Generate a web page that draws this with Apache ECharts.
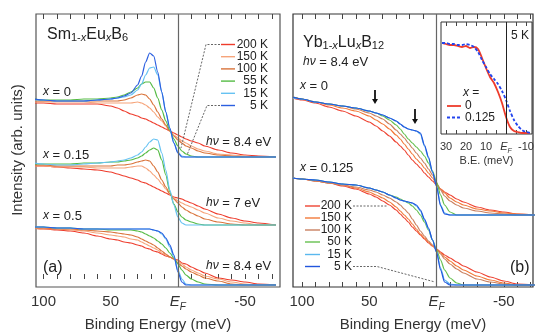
<!DOCTYPE html>
<html>
<head>
<meta charset="utf-8">
<script src="https://cdn.jsdelivr.net/npm/echarts@6/dist/echarts.min.js"></script>
<style>
html, body { margin: 0; padding: 0; background: #fff; }
#main { width: 535px; height: 333px; }
</style>
</head>
<body>
<div id="main"></div>
<script>
// binding energy grid (meV) shared by the two main panels
var energy = [107, 100, 90, 80, 70, 60, 50, 45, 40, 35, 30, 27, 24, 21, 18, 15, 12, 9, 6, 3, 0, -3, -6, -10, -15, -20, -30, -40, -50, -60, -73];
var tempsA = ['200 K', '150 K', '100 K', '55 K', '15 K', '5 K'];
var tempsB = ['200 K', '150 K', '100 K', '50 K', '15 K', '5 K'];

// (a) Sm1-xEuxB6, x = 0 (order: 200,150,100,55,15,5 K)
var smX0 = [
  [176,176,175,175,175,175,173,171,168,165,163,161,160,158,156,154,152,150,148,146,144,142,140,138,136,133,129,126,124,123,122],
  [177,177,177,177,177,176,176,176,176,176,177,176,174,171,167,162,158,153,148,144,141,138,136,133,130,128,125,124,123,122,122],
  [178,178,178,178,178,178,178,178,179,181,184,185,184,180,174,167,160,154,148,143,139,136,133,131,128,126,124,123,122,122,122],
  [180,179,179,179,180,180,181,182,184,187,191,195,197,197,191,181,169,158,149,140,133,128,125,123,122,122,122,122,122,122,122],
  [179,179,178,178,178,179,180,181,182,184,189,195,204,211,212,204,187,167,150,136,127,123,122,122,122,122,122,122,122,122,122],
  [180,179,178,178,178,179,180,181,183,186,194,203,217,226,223,207,187,167,151,136,126,122,122,122,122,122,122,122,122,122,122]
];
// (a) x = 0.15 (no 5 K curve)
var smX015 = [
  [113,113,112,111,110,109,107,105,103,101,99,97,96,94,92,90,88,86,84,82,81,80,78,76,73,70,65,61,58,56,54],
  [113,113,112,112,112,111,111,111,111,112,113,113,111,108,104,100,95,90,85,81,78,76,74,72,69,66,61,58,56,54,54],
  [114,114,113,113,113,113,113,114,114,115,117,118,119,118,113,107,99,92,85,80,76,72,69,66,63,60,57,55,54,54,54],
  [115,115,115,115,116,116,117,117,118,119,121,123,126,129,131,129,119,104,87,75,67,62,59,57,55,54,54,54,54,54,54],
  [116,115,114,114,115,116,117,118,119,121,124,127,132,137,140,139,126,109,89,74,62,56,54,54,54,54,54,54,54,54,54],
  null
];
// (a) x = 0.5
var smX05 = [
  [51,50,49,48,46,43,40,39,37,36,34,33,31,30,28,27,25,23,22,20,19,16,15,12,9,6,1,-1,-3,-5,-6],
  [51,50,50,49,48,46,44,43,42,40,39,37,35,33,31,29,26,24,22,20,18,15,12,9,6,3,0,-3,-5,-6,-6],
  [51,51,50,50,49,48,47,46,45,44,42,40,38,36,34,31,28,25,22,20,16,13,10,7,4,1,-2,-5,-6,-6,-6],
  [52,52,51,51,50,50,49,49,49,49,48,47,45,43,41,38,35,31,26,21,15,9,4,0,-3,-5,-6,-6,-6,-6,-6],
  [52,52,51,51,50,50,50,50,50,50,50,50,50,50,49,48,45,40,32,22,9,0,-5,-6,-6,-6,-6,-6,-6,-6,-6],
  [52,52,51,51,50,50,50,50,50,50,50,50,50,50,49,48,46,41,34,24,7,-3,-6,-6,-6,-6,-6,-6,-6,-6,-6]
];
// (b) Yb1-xLuxB12, x = 0
var ybX0 = [
  [190,188,185,181,177,172,166,162,157,152,146,142,138,133,128,124,120,115,111,107,103,99,96,93,89,86,81,78,76,74,73],
  [191,189,186,183,180,177,172,168,164,159,153,149,144,139,134,129,125,120,115,110,104,99,95,90,86,83,79,77,75,74,73],
  [191,189,186,184,182,179,175,172,169,164,158,154,150,145,140,135,130,125,119,113,105,98,92,87,83,80,77,75,74,73,73],
  [191,189,186,184,182,180,177,175,172,168,163,159,154,149,145,141,137,132,125,117,106,93,83,76,73,73,73,73,73,73,73],
  [190,189,186,184,182,180,177,175,173,170,167,164,161,159,158,157,154,142,130,116,102,83,75,73,73,73,73,73,73,73,73],
  [191,189,186,184,182,180,177,175,173,170,167,164,161,159,158,157,155,143,131,116,102,82,74,73,73,73,73,73,73,73,73]
];
// (b) x = 0.125
var ybX0125 = [
  [110,109,107,105,102,99,94,91,87,83,78,74,70,66,61,57,53,49,45,42,39,36,33,30,26,22,16,11,7,4,3],
  [110,109,107,105,103,100,96,93,90,86,81,77,73,69,64,59,54,50,46,42,39,35,31,27,22,18,12,8,5,3,3],
  [110,109,107,105,103,101,98,96,93,90,86,83,79,75,69,63,57,52,47,43,39,34,29,24,19,15,9,6,4,3,3],
  [110,109,108,106,104,103,100,98,96,93,91,89,87,85,82,78,73,66,58,48,38,28,18,10,5,3,3,3,3,3,3],
  [110,109,108,106,104,103,100,98,96,93,90,88,87,86,85,82,77,68,59,48,36,20,8,4,3,3,3,3,3,3,3],
  [110,109,108,106,104,103,100,98,96,93,90,88,87,86,85,83,78,69,60,48,36,18,6,3,3,3,3,3,3,3,3]
];
// inset: 5 K, x = 0 vs x = 0.125
var insetEnergy = [32, 30, 28, 26, 24, 22, 20, 18, 16, 14, 12, 10, 8, 6, 4, 2, 0, -2, -4, -6, -8, -10, -12];
var insetX0 = [91,90,89,89,88,87,88,86,87,85,76,66,57,51,42,31,17,7,3,2,1,1,1];
var insetX0125 = [91,91,90,90,89,89,90,89,87,82,74,67,60,55,50,43,34,23,14,8,4,2,1];

var mainTicks = [100, 90, 80, 70, 60, 50, 40, 30, 20, 10, 0, -10, -20, -30, -40, -50, -60, -70];
var mainLabels = [100, 50, 0, -50];
var insetTicks = [30, 25, 20, 15, 10, 5, 0, -5, -10];
var insetLabels = [30, 20, 10, 0, -10];

var colorsA = ['#ee3b2b', '#f6a47a', '#d9733a', '#55bb44', '#66c2f2', '#2b5fe0'];
var colorsB = ['#ee4433', '#f27a3a', '#c98060', '#66c050', '#5ab8ee', '#2255dd'];

var FONT = 'Liberation Sans';
var chart = echarts.init(document.getElementById('main'));

function pts(xs, ys) {
  return xs.map(function (x, i) { return [x, ys[i]]; });
}

var efLine = {
  silent: true, symbol: 'none', label: { show: false },
  lineStyle: { color: '#666', type: 'solid', width: 1.2 },
  data: [{ xAxis: 0 }]
};

var series = [];
function addGroup(groups, names, colors, gi) {
  groups.forEach(function (grp) {
    grp.forEach(function (ys, k) {
      if (!ys) return;
      series.push({
        type: 'line', name: names[k], xAxisIndex: gi * 2, yAxisIndex: gi,
        data: pts(energy, ys), symbol: 'none', smooth: 0.25, smoothMonotone: 'x',
        lineStyle: { color: colors[k], width: 1.2 }, silent: true
      });
    });
  });
  series[series.length - 1].markLine = efLine;
}
addGroup([smX0, smX015, smX05], tempsA, colorsA, 0);
addGroup([ybX0, ybX0125], tempsB, colorsB, 1);
series.push({
  type: 'line', name: 'x = 0', xAxisIndex: 4, yAxisIndex: 2, data: pts(insetEnergy, insetX0),
  symbol: 'none', smooth: 0.25, lineStyle: { color: '#ee3b2b', width: 1.8 }, silent: true,
  markLine: { silent: true, symbol: 'none', label: { show: false }, lineStyle: { color: '#222', type: 'solid', width: 1 }, data: [{ xAxis: 0 }] }
});
series.push({
  type: 'line', name: 'x = 0.125', xAxisIndex: 4, yAxisIndex: 2, data: pts(insetEnergy, insetX0125),
  symbol: 'none', smooth: 0.25, lineStyle: { color: '#2244ee', width: 1.8, type: [3, 2] }, silent: true
});

function labelRich(fs) {
  return {
    n: { fontSize: fs, fontFamily: FONT, color: '#333', lineHeight: fs + 5 },
    i: { fontSize: fs, fontFamily: FONT, color: '#333', fontStyle: 'italic', lineHeight: fs + 5 },
    s: { fontSize: Math.round(fs * 0.65), fontFamily: FONT, color: '#333', fontStyle: 'italic', verticalAlign: 'bottom' }
  };
}
function xAx(gi, min, max, ticks, labels, fs, name, gap, tickLen) {
  var base = {
    type: 'value', gridIndex: gi, inverse: true, min: min, max: max,
    axisLine: { show: false }, splitLine: { show: false },
    axisTick: { show: true, inside: true, length: tickLen, customValues: ticks, lineStyle: { color: '#444' } }
  };
  var bottom = echarts.util.merge({
    position: 'bottom',
    name: name, nameLocation: 'middle', nameGap: gap,
    nameTextStyle: { fontFamily: FONT, fontSize: fs, color: '#333' },
    axisLabel: {
      customValues: labels, margin: 5, hideOverlap: false, rich: labelRich(fs),
      formatter: function (v) { return v === 0 ? '{i|E}{s|F}' : '{n|' + v + '}'; }
    }
  }, base, true);
  var top = echarts.util.merge({ position: 'top', axisLabel: { show: false } }, base, true);
  top.axisTick = echarts.util.clone(base.axisTick);
  return [bottom, top];
}
var xAxes = [].concat(
  xAx(0, -76, 105.6, mainTicks, mainLabels, 15, 'Binding Energy (meV)', 17, 5),
  xAx(1, -71.7, 106.7, mainTicks, mainLabels, 15, 'Binding Energy (meV)', 17, 5),
  xAx(2, -13, 32.5, insetTicks, insetLabels, 11, 'B.E. (meV)', 14, 4)
);
function yAx(gi, min, max) {
  return { type: 'value', gridIndex: gi, min: min, max: max, axisLine: { show: false }, axisTick: { show: false }, axisLabel: { show: false }, splitLine: { show: false } };
}

var txtRich = {
  i: { fontStyle: 'italic', fontFamily: FONT },
  s: { fontSize: 11, fontFamily: FONT, verticalAlign: 'bottom' },
  si: { fontSize: 11, fontFamily: FONT, fontStyle: 'italic', verticalAlign: 'bottom' }
};
function txt(x, y, text, fs, extra) {
  var st = { text: text, font: fs + 'px "' + FONT + '"', fill: '#222', rich: txtRich, textVerticalAlign: 'middle' };
  if (extra) st.textAlign = extra;
  return { type: 'text', x: x, y: y, style: st, z: 10, silent: true };
}
function legendItems(x1, x2, xr, rows, names, colors) {
  var out = [];
  names.forEach(function (n, k) {
    out.push({ type: 'line', shape: { x1: x1, y1: rows[k], x2: x2, y2: rows[k] }, style: { stroke: colors[k], lineWidth: 1.4 }, z: 10, silent: true });
    out.push(txt(xr, rows[k], n, 12, 'right'));
  });
  return out;
}
function dashed(points) {
  return { type: 'polyline', shape: { points: points }, style: { stroke: '#555', lineWidth: 0.9, lineDash: [2, 1.5], fill: null }, z: 10, silent: true };
}
function arrow(x, y1, y2) {
  return [
    { type: 'line', shape: { x1: x, y1: y1, x2: x, y2: y2 - 3 }, style: { stroke: '#111', lineWidth: 1.8 }, z: 10, silent: true },
    { type: 'polygon', shape: { points: [[x - 3, y2 - 5], [x + 3, y2 - 5], [x, y2]] }, style: { fill: '#111' }, z: 10, silent: true }
  ];
}

var graphics = [].concat(
  [
    { type: 'text', x: 18, y: 150, rotation: Math.PI / 2, style: { text: 'Intensity (arb. units)', font: '15px "' + FONT + '"', fill: '#333', textAlign: 'center', textVerticalAlign: 'middle' }, silent: true },
    txt(47, 35, 'Sm{s|1-}{si|x}Eu{si|x}B{s|6}', 16),
    txt(43, 92, '{i|x} = 0', 13),
    txt(43, 155, '{i|x} = 0.15', 13),
    txt(43, 216, '{i|x} = 0.5', 13),
    txt(206, 142, '{i|hν} = 8.4 eV', 13),
    txt(206, 203, '{i|hν} = 7 eV', 13),
    txt(206, 266, '{i|hν} = 8.4 eV', 13),
    txt(43, 268, '(a)', 16),
    txt(303, 43, 'Yb{s|1-}{si|x}Lu{si|x}B{s|12}', 16),
    txt(303, 62, '{i|hν} = 8.4 eV', 13),
    txt(300, 86, '{i|x} = 0', 13),
    txt(300, 168, '{i|x} = 0.125', 13),
    txt(510, 268, '(b)', 16),
    txt(511, 36, '5 K', 12),
    txt(463, 93, '{i|x} =', 12),
    txt(465, 106, '0', 12),
    txt(465, 117.5, '0.125', 12),
    { type: 'line', shape: { x1: 447, y1: 106, x2: 461, y2: 106 }, style: { stroke: '#ee3b2b', lineWidth: 1.8 }, z: 10, silent: true },
    { type: 'line', shape: { x1: 447, y1: 117.5, x2: 461, y2: 117.5 }, style: { stroke: '#2244ee', lineWidth: 1.8, lineDash: [3, 2] }, z: 10, silent: true },
    dashed([[220, 44.5], [206, 44.5], [181, 148]]),
    dashed([[220, 105.5], [207, 105.5], [187, 155]]),
    dashed([[353, 206], [387, 206]]),
    dashed([[353, 266.5], [377, 266.5], [435, 282]])
  ],
  legendItems(221, 235, 268, [44.5, 56.7, 68.9, 81.1, 93.3, 105.5], tempsA, colorsA),
  legendItems(305, 320, 352, [206, 218, 230, 242, 254.5, 266.5], tempsB, colorsB),
  arrow(375, 90, 104),
  arrow(415, 109, 124)
);

var option = {
  animation: false,
  backgroundColor: '#fff',
  grid: [
    { left: 36, top: 14, width: 244, height: 273, show: true, borderColor: '#555', borderWidth: 1.2, outerBoundsMode: 'none' },
    { left: 293, top: 14, width: 240, height: 273, show: true, borderColor: '#333', borderWidth: 1.2, outerBoundsMode: 'none' },
    { left: 441, top: 22, width: 91, height: 112, show: true, borderColor: '#333', borderWidth: 1, backgroundColor: '#fff', outerBoundsMode: 'none' }
  ],
  xAxis: xAxes,
  yAxis: [yAx(0, -8, 265), yAx(1, 1, 274), yAx(2, 0, 112)],
  series: series,
  graphic: graphics
};
chart.setOption(option);
</script>
</body>
</html>
